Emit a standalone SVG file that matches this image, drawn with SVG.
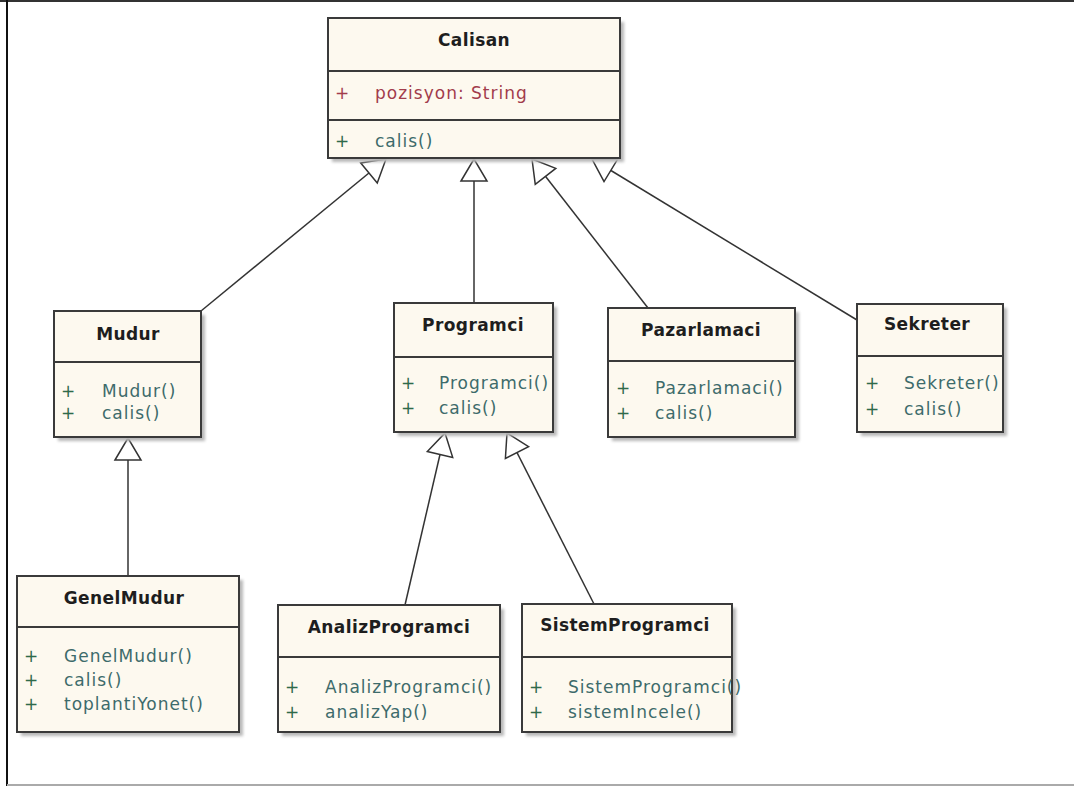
<svg xmlns="http://www.w3.org/2000/svg" width="1074" height="786" viewBox="0 0 1074 786">
<style>
.box{fill:#fdf9ef;stroke:#3a3a3a;stroke-width:2}
.shadow{fill:#b8b8b8;filter:url(#blur)}
.div{stroke:#3a3a3a;stroke-width:2}
.title{font-family:"DejaVu Sans",Verdana,sans-serif;font-size:17px;font-weight:bold;fill:#1e1e1e;text-anchor:middle;letter-spacing:0.4px}
.mem{font-family:"DejaVu Sans",Verdana,sans-serif;font-size:17px;letter-spacing:1px}
.op{fill:#3d6b6b}
.opp{fill:#2f6a4a}
.attr{fill:#a23c4c}
.conn{stroke:#333;stroke-width:1.5;fill:none;marker-end:url(#gen)}
</style>
<defs>
<filter id="blur" x="-10%" y="-10%" width="120%" height="120%"><feGaussianBlur stdDeviation="1.5"/></filter>
<marker id="gen" viewBox="0 0 22 26" refX="22" refY="13" markerWidth="22" markerHeight="26" markerUnits="userSpaceOnUse" orient="auto" overflow="visible">
<path d="M0,0 L22,13 L0,26 Z" fill="#fff" stroke="#333" stroke-width="1.5"/>
</marker>
</defs>
<rect x="0" y="0" width="1074" height="786" fill="#fff"/>
<line x1="0" y1="1" x2="1074" y2="1" stroke="#333" stroke-width="2"/>
<line x1="7" y1="0" x2="7" y2="786" stroke="#111" stroke-width="2"/>
<line x1="7" y1="785" x2="1074" y2="785" stroke="#aaa" stroke-width="2"/>

<g id="connectors">
<line class="conn" x1="201" y1="311" x2="386" y2="159"/>
<line class="conn" x1="474" y1="303" x2="474" y2="159"/>
<line class="conn" x1="648" y1="308" x2="532" y2="159"/>
<line class="conn" x1="857" y1="320" x2="592" y2="159"/>
<line class="conn" x1="128" y1="576" x2="128" y2="438"/>
<line class="conn" x1="405" y1="605" x2="445" y2="433"/>
<line class="conn" x1="594" y1="604" x2="507" y2="433"/>
</g>

<g id="Calisan">
<rect class="shadow" x="332" y="22" width="292" height="140"/>
<rect class="box" x="328" y="18" width="292" height="140"/>
<line class="div" x1="328" y1="71" x2="620" y2="71"/>
<line class="div" x1="328" y1="120" x2="620" y2="120"/>
<text class="title" x="474" y="46">Calisan</text>
<text class="mem attr" x="335" y="99">+</text>
<text class="mem attr" x="375" y="99">pozisyon:  String</text>
<text class="mem opp" x="335" y="147">+</text>
<text class="mem op" x="375" y="147">calis()</text>
</g>

<g id="Mudur">
<rect class="shadow" x="58" y="315" width="147" height="126"/>
<rect class="box" x="54" y="311" width="147" height="126"/>
<line class="div" x1="54" y1="362" x2="201" y2="362"/>
<text class="title" x="128" y="340">Mudur</text>
<text class="mem opp" x="61" y="397">+</text>
<text class="mem op" x="102" y="397">Mudur()</text>
<text class="mem opp" x="61" y="419">+</text>
<text class="mem op" x="102" y="419">calis()</text>
</g>

<g id="Programci">
<rect class="shadow" x="398" y="307" width="159" height="129"/>
<rect class="box" x="394" y="303" width="159" height="129"/>
<line class="div" x1="394" y1="357" x2="553" y2="357"/>
<text class="title" x="473" y="331">Programci</text>
<text class="mem opp" x="401" y="389">+</text>
<text class="mem op" x="439" y="389">Programci()</text>
<text class="mem opp" x="401" y="414">+</text>
<text class="mem op" x="439" y="414">calis()</text>
</g>

<g id="Pazarlamaci">
<rect class="shadow" x="612" y="312" width="187" height="129"/>
<rect class="box" x="608" y="308" width="187" height="129"/>
<line class="div" x1="608" y1="361" x2="795" y2="361"/>
<text class="title" x="701" y="336">Pazarlamaci</text>
<text class="mem opp" x="616" y="394">+</text>
<text class="mem op" x="655" y="394">Pazarlamaci()</text>
<text class="mem opp" x="616" y="419">+</text>
<text class="mem op" x="655" y="419">calis()</text>
</g>

<g id="Sekreter">
<rect class="shadow" x="861" y="308" width="146" height="128"/>
<rect class="box" x="857" y="304" width="146" height="128"/>
<line class="div" x1="857" y1="356" x2="1003" y2="356"/>
<text class="title" x="927" y="330">Sekreter</text>
<text class="mem opp" x="865" y="389">+</text>
<text class="mem op" x="904" y="389">Sekreter()</text>
<text class="mem opp" x="865" y="415">+</text>
<text class="mem op" x="904" y="415">calis()</text>
</g>

<g id="GenelMudur">
<rect class="shadow" x="21" y="580" width="222" height="156"/>
<rect class="box" x="17" y="576" width="222" height="156"/>
<line class="div" x1="17" y1="627" x2="239" y2="627"/>
<text class="title" x="124" y="604">GenelMudur</text>
<text class="mem opp" x="24" y="662">+</text>
<text class="mem op" x="64" y="662">GenelMudur()</text>
<text class="mem opp" x="24" y="686">+</text>
<text class="mem op" x="64" y="686">calis()</text>
<text class="mem opp" x="24" y="710">+</text>
<text class="mem op" x="64" y="710">toplantiYonet()</text>
</g>

<g id="AnalizProgramci">
<rect class="shadow" x="282" y="609" width="222" height="127"/>
<rect class="box" x="278" y="605" width="222" height="127"/>
<line class="div" x1="278" y1="657" x2="500" y2="657"/>
<text class="title" x="389" y="633">AnalizProgramci</text>
<text class="mem opp" x="285" y="693">+</text>
<text class="mem op" x="325" y="693">AnalizProgramci()</text>
<text class="mem opp" x="285" y="718">+</text>
<text class="mem op" x="325" y="718">analizYap()</text>
</g>

<g id="SistemProgramci">
<rect class="shadow" x="526" y="608" width="210" height="128"/>
<rect class="box" x="522" y="604" width="210" height="128"/>
<line class="div" x1="522" y1="657" x2="732" y2="657"/>
<text class="title" x="625" y="631">SistemProgramci</text>
<text class="mem opp" x="529" y="693">+</text>
<text class="mem op" x="568" y="693">SistemProgramci()</text>
<text class="mem opp" x="529" y="718">+</text>
<text class="mem op" x="568" y="718">sistemIncele()</text>
</g>
</svg>
